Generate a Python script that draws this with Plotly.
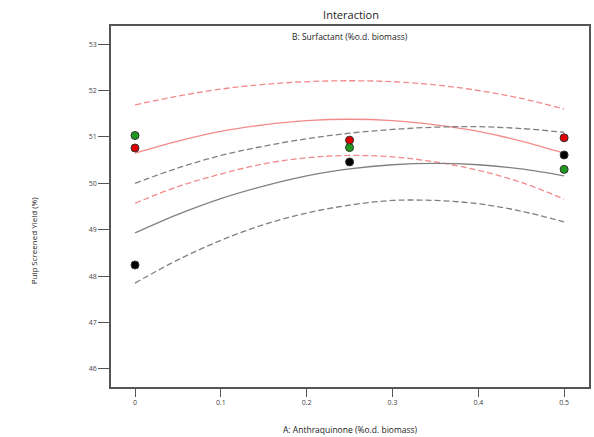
import plotly.graph_objects as go

# Design points (A: Anthraquinone)
x_pts = [0, 0.25, 0.5]
y_red_pts = [50.76, 50.93, 50.98]
y_green_pts = [51.03, 50.77, 50.30]
y_black_pts = [48.24, 50.46, 50.61]

# Curve sample positions and values
x_curve = [0, 0.05, 0.1, 0.15, 0.2, 0.25, 0.3, 0.35, 0.4, 0.45, 0.5]
red_fit = [50.65, 50.91, 51.12, 51.26, 51.35, 51.38, 51.35, 51.26, 51.12, 50.91, 50.65]
red_upper = [51.69, 51.88, 52.03, 52.13, 52.19, 52.21, 52.19, 52.12, 52.00, 51.83, 51.60]
red_lower = [49.57, 49.93, 50.20, 50.42, 50.55, 50.60, 50.57, 50.46, 50.28, 50.02, 49.66]
black_fit = [48.93, 49.33, 49.67, 49.94, 50.16, 50.31, 50.40, 50.43, 50.40, 50.31, 50.16]
black_upper = [50.00, 50.33, 50.60, 50.80, 50.96, 51.08, 51.16, 51.21, 51.22, 51.18, 51.10]
black_lower = [47.85, 48.35, 48.77, 49.11, 49.36, 49.53, 49.63, 49.63, 49.56, 49.40, 49.17]

x_ticks = [0, 0.1, 0.2, 0.3, 0.4, 0.5]
x_tick_text = ["0", "0.1", "0.2", "0.3", "0.4", "0.5"]
y_ticks = [46, 47, 48, 49, 50, 51, 52, 53]

RED_LINE = "#f38a8a"
GRAY_LINE = "#808080"

fig = go.Figure()

def add_line(y, color, dash):
    fig.add_trace(go.Scatter(x=x_curve, y=y, mode="lines", line=dict(color=color, width=1.3, dash=dash, shape="spline"),
                             showlegend=False, hoverinfo="skip"))

add_line(red_upper, RED_LINE, "6px,3px")
add_line(red_fit, RED_LINE, "solid")
add_line(red_lower, RED_LINE, "6px,3px")
add_line(black_upper, GRAY_LINE, "6px,3px")
add_line(black_fit, GRAY_LINE, "solid")
add_line(black_lower, GRAY_LINE, "6px,3px")

def add_pts(y, color):
    fig.add_trace(go.Scatter(x=x_pts, y=y, mode="markers",
                             marker=dict(color=color, size=8, line=dict(color="#333333", width=1)),
                             showlegend=False))

add_pts(y_red_pts, "#e00000")
add_pts(y_green_pts, "#1f9a1f")
add_pts(y_black_pts, "#000000")

fig.update_layout(
    width=594, height=437,
    margin=dict(l=111, r=3, t=26, b=50),
    paper_bgcolor="white", plot_bgcolor="white",
    font=dict(family="Open Sans, DejaVu Sans, sans-serif", color="#333333"),
    title=dict(text="Interaction", x=0.591, xanchor="center", y=0.965, yanchor="middle",
               font=dict(size=11, color="#222222")),
    xaxis=dict(range=[-0.028, 0.529], tickvals=x_ticks, ticktext=x_tick_text,
               showgrid=False, zeroline=False, showline=True, mirror=True,
               linecolor="#555555", linewidth=1.5, ticks="outside", ticklen=8,
               tickcolor="#555555", tickfont=dict(size=7, color="#444444")),
    yaxis=dict(range=[45.61, 53.39], tickvals=y_ticks,
               showgrid=False, zeroline=False, showline=True, mirror=True,
               linecolor="#555555", linewidth=1.5, ticks="outside", ticklen=11,
               tickcolor="#555555", tickfont=dict(size=7, color="#444444")),
    annotations=[
        dict(text="B: Surfactant (%o.d. biomass)", xref="paper", yref="paper",
             x=0.5, y=0.97, xanchor="center", yanchor="middle", showarrow=False,
             font=dict(size=8.5, color="#222222")),
        dict(text="A: Anthraquinone (%o.d. biomass)", xref="paper", yref="paper",
             x=0.5, y=-0.117, xanchor="center", yanchor="middle", showarrow=False,
             font=dict(size=8.5, color="#222222")),
        dict(text="Pulp Screened Yield (%)", xref="paper", yref="paper",
             x=-0.162, y=0.405, xanchor="center", yanchor="middle", showarrow=False,
             textangle=-90, font=dict(size=8, color="#222222")),
    ],
)

fig.write_html("out.html")
